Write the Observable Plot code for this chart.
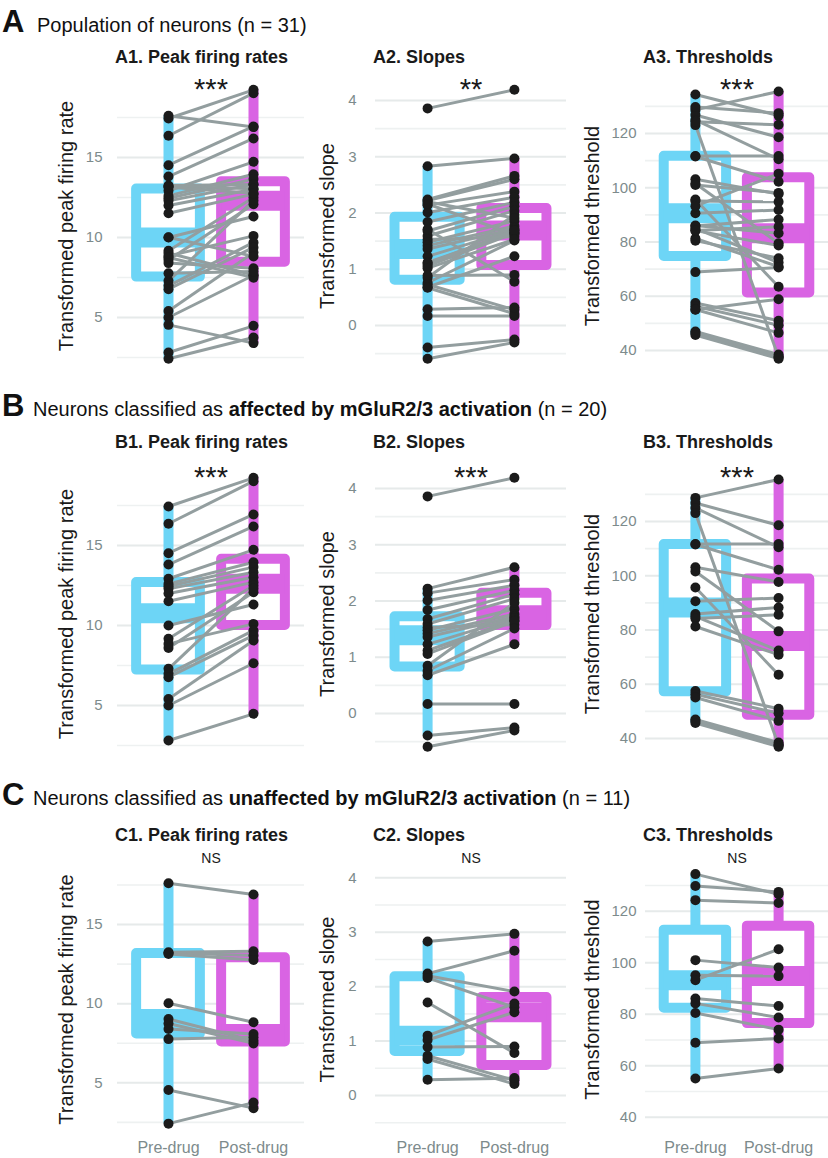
<!DOCTYPE html>
<html><head><meta charset="utf-8">
<script src="https://cdn.jsdelivr.net/npm/d3@7"></script>
<script src="https://cdn.jsdelivr.net/npm/@observablehq/plot@0.6"></script>
<style>
body{margin:0;background:#fff;}
#fig{position:relative;width:828px;height:1158px;overflow:hidden;font-family:"Liberation Sans",Arial,Helvetica,sans-serif;color:#1a1a1a;background:#fff;}
.abs{position:absolute;white-space:nowrap;}
</style></head><body><div id="fig"></div>
<script>
// ---------------- data ----------------
const groups = ["Pre-drug", "Post-drug"];
const rowLetters = ["A", "B", "C"];
const rowLead = ["Population of neurons ", "Neurons classified as ", "Neurons classified as "];
const rowBold = ["", "affected by mGluR2/3 activation", "unaffected by mGluR2/3 activation"];
const rowCount = ["(n = 31)", " (n = 20)", " (n = 11)"];
const measureTitles = ["Peak firing rates", "Slopes", "Thresholds"];
const axisTitles = ["Transformed peak firing rate", "Transformed slope", "Transformed threshold"];
const significance = [["***", "**", "***"], ["***", "***", "***"], ["NS", "NS", "NS"]];
const majorTicks = [[5, 10, 15], [0, 1, 2, 3, 4], [40, 60, 80, 100, 120]];
const minorTicks = [[2.5, 7.5, 12.5, 17.5], [-0.5, 0.5, 1.5, 2.5, 3.5], [50, 70, 90, 110, 130]];

// neurons affected by mGluR2/3 activation (n = 20), paired by index
const affectedRatePre  = [17.44, 16.36, 14.52, 13.81, 12.92, 12.6, 12.45, 12.29, 12.0, 11.52, 10.0, 9.17, 8.6, 7.29, 8.85, 6.98, 6.77, 5.4, 5.0, 2.81];
const affectedRatePost = [19.23, 19.02, 16.94, 16.19, 14.73, 13.95, 13.65, 13.33, 13.02, 12.71, 11.31, 12.5, 12.08, 12.3, 10.1, 9.69, 9.38, 9.06, 7.64, 4.48];
const affectedSlopePre  = [3.86, 2.22, 2.14, 2.01, 1.84, 1.68, 1.59, 1.53, 1.48, 1.42, 1.36, 1.23, 1.12, 1.06, 0.85, 0.76, 0.68, 0.17, -0.39, -0.59];
const affectedSlopePost = [4.19, 2.60, 2.38, 2.28, 2.19, 2.12, 2.04, 1.58, 1.86, 1.77, 1.72, 1.70, 1.66, 1.64, 1.97, 1.51, 1.23, 0.17, -0.25, -0.30];
const affectedThrPre  = [128.7, 126.8, 125.0, 123.1, 111.7, 111.5, 103.1, 101.6, 95.7, 90.6, 85.9, 85.0, 84.2, 81.3, 57.5, 56.3, 55.1, 47.0, 46.5, 45.7];
const affectedThrPost = [135.5, 118.6, 110.5, 37.5, 111.7, 102.2, 97.7, 79.5, 63.5, 91.8, 88.3, 72.4, 85.6, 70.9, 51.0, 49.3, 46.5, 38.5, 37.8, 37.0];

// neurons unaffected by mGluR2/3 activation (n = 11), paired by index
const unaffectedRatePre  = [17.61, 13.25, 13.2, 13.14, 10.02, 9.03, 8.75, 8.4, 7.76, 4.54, 2.42];
const unaffectedRatePost = [16.9, 13.31, 13.04, 12.76, 8.82, 7.66, 7.49, 8.08, 7.87, 3.4, 3.75];
const unaffectedSlopePre  = [2.83, 2.24, 2.2, 2.16, 1.71, 1.10, 1.02, 0.89, 0.73, 0.67, 0.29];
const unaffectedSlopePost = [2.97, 2.66, 1.91, 1.62, 0.78, 1.69, 1.53, 0.90, 0.28, 0.21, 0.32];
const unaffectedThrPre  = [134.4, 129.8, 124.3, 101.0, 95.1, 93.2, 86.1, 84.2, 80.5, 68.9, 55.0];
const unaffectedThrPost = [126.6, 127.5, 123.2, 98.1, 94.8, 105.2, 83.2, 78.7, 74.0, 70.6, 58.9];

// ---------------- layout / style ----------------
const boxColors = ["#6dd5f6", "#d964e3"];
const lineColor = "#939e9f";
const dotColor = "#1b1b1b";
const gridMajor = "#e6eaea";
const gridMinor = "#eef1f1";
const tickColor = "#7d8b8c";
const FONT = '"Liberation Sans", Arial, Helvetica, sans-serif';

const colFrame = [[117, 304], [375, 566], [645, 828]];
const svgLeft = [30, 296, 566];
const tickGap = [15, 19, 9];
const yTitleX = [66, 327, 592];
const rowFrame = [[80, 371], [468, 759], [861, 1137]];
const svgTop = [70, 458, 846];
const svgHeight = [306, 306, 312];
// two reference ticks (value, page y) per panel to reproduce each panel's y scale
const yRefs = [
  [[[5, 317], [15, 157]], [[0, 325], [4, 100]], [[40, 350], [120, 133]]],
  [[[5, 705], [15, 545]], [[0, 713], [4, 488]], [[40, 738], [120, 521]]],
  [[[5, 1082.3], [15, 924]], [[0, 1095], [4, 877.3]], [[40, 1116.7], [120, 910.7]]]
];
const panelTitleBase = [63.4, 448.4, 841.4];
const headerBase = [32, 416, 805];

const fig = document.getElementById("fig");

function placeText(html, x, baseline, size, weight, color) {
  const lh = Math.round(size * 1.3);
  const top = baseline - ((lh - 1.117 * size) / 2 + 0.905 * size);
  const el = document.createElement("div");
  el.className = "abs";
  el.style.left = x + "px";
  el.style.top = top + "px";
  el.style.fontSize = size + "px";
  el.style.lineHeight = lh + "px";
  el.style.fontWeight = weight;
  el.style.color = color;
  el.innerHTML = html;
  fig.appendChild(el);
}

function boxStats(values) {
  const s = d3.sort(values);
  const q1 = d3.quantileSorted(s, 0.25), med = d3.quantileSorted(s, 0.5), q3 = d3.quantileSorted(s, 0.75);
  const iqr = q3 - q1;
  const lo = d3.min(s.filter(v => v >= q1 - 1.5 * iqr));
  const hi = d3.max(s.filter(v => v <= q3 + 1.5 * iqr));
  return {q1, med, q3, lo, hi};
}

const datasets = [
  [[affectedRatePre.concat(unaffectedRatePre), affectedRatePost.concat(unaffectedRatePost)],
   [affectedSlopePre.concat(unaffectedSlopePre), affectedSlopePost.concat(unaffectedSlopePost)],
   [affectedThrPre.concat(unaffectedThrPre), affectedThrPost.concat(unaffectedThrPost)]],
  [[affectedRatePre, affectedRatePost], [affectedSlopePre, affectedSlopePost], [affectedThrPre, affectedThrPost]],
  [[unaffectedRatePre, unaffectedRatePost], [unaffectedSlopePre, unaffectedSlopePost], [unaffectedThrPre, unaffectedThrPost]]
];

// headers
for (let r = 0; r < 3; r++) {
  placeText(rowLetters[r], 2, headerBase[r] + 1, 31, "bold", "#111");
  const bold = rowBold[r] ? `<b>${rowBold[r]}</b>` : "";
  placeText(`${rowLead[r]}${bold}${rowCount[r]}`, r === 0 ? 37 : 33, headerBase[r], 20, "normal", "#111");
}

for (let r = 0; r < 3; r++) {
  for (let c = 0; c < 3; c++) {
    placeText(`${rowLetters[r]}${c + 1}. ${measureTitles[c]}`, colFrame[c][0] - 2, panelTitleBase[r], 18, "bold", "#1a1a1a");

    const [pre, post] = datasets[r][c];
    const pairs = pre.map((v, i) => ({pre: v, post: post[i]}));
    const stats = [boxStats(pre), boxStats(post)];

    const [[v1, p1], [v2, p2]] = yRefs[r][c];
    const inv = py => v1 + (py - p1) * (v2 - v1) / (p2 - p1);
    const lo = inv(rowFrame[r][1]), hi = inv(rowFrame[r][0]);
    const inDom = t => t >= lo && t <= hi;

    const width = colFrame[c][1] - svgLeft[c];
    const marginLeft = colFrame[c][0] - svgLeft[c];
    const marginTop = rowFrame[r][0] - svgTop[r];
    const marginBottom = svgTop[r] + svgHeight[r] - rowFrame[r][1];

    const marks = [
      Plot.ruleY(minorTicks[c].filter(inDom), {stroke: gridMinor, strokeWidth: 1.6}),
      Plot.ruleY(majorTicks[c].filter(inDom), {stroke: gridMajor, strokeWidth: 2}),
      Plot.axisY(majorTicks[c].filter(inDom), {tickSize: 0, tickPadding: tickGap[c], fontSize: 15, label: null, tickFormat: d => String(d)})
    ];
    if (r === 2) {
      marks.push(Plot.axisX([1, 2], {tickSize: 0, tickPadding: 4, fontSize: 16, label: null, tickFormat: i => groups[i - 1]}));
    }
    stats.forEach((st, g) => {
      const pos = g + 1, col = boxColors[g];
      marks.push(
        Plot.ruleX([st], {x: () => pos, y1: "q3", y2: "hi", stroke: col, strokeWidth: 10}),
        Plot.ruleX([st], {x: () => pos, y1: "lo", y2: "q1", stroke: col, strokeWidth: 10}),
        Plot.rect([st], {x1: () => pos - 0.375, x2: () => pos + 0.375, y1: "q1", y2: "q3", fill: "#fff", stroke: col, strokeWidth: 10, strokeLinejoin: "round"}),
        Plot.ruleY([st], {y: "med", x1: () => pos - 0.375, x2: () => pos + 0.375, stroke: col, strokeWidth: 20})
      );
    });
    marks.push(
      Plot.link(pairs, {x1: () => 1, x2: () => 2, y1: "pre", y2: "post", stroke: lineColor, strokeWidth: 3}),
      Plot.dot(pairs, {x: () => 1, y: "pre", r: 5, fill: dotColor}),
      Plot.dot(pairs, {x: () => 2, y: "post", r: 5, fill: dotColor})
    );
    const sig = significance[r][c];
    const isNS = sig === "NS";
    marks.push(
      Plot.text([sig], {text: d => d, frameAnchor: "top", lineAnchor: "middle", textAnchor: "middle",
        fontSize: isNS ? 14 : 29, fill: "#1a1a1a", dy: isNS ? -3 : 9}),
      Plot.text([axisTitles[c]], {text: d => d, frameAnchor: "left", rotate: -90, textAnchor: "middle", lineAnchor: "middle",
        dx: yTitleX[c] - colFrame[c][0], fontSize: 20, fill: "#1a1a1a"})
    );

    const svg = Plot.plot({
      width, height: svgHeight[r],
      marginLeft, marginRight: 0, marginTop, marginBottom,
      x: {type: "linear", domain: [0.4, 2.6], axis: null},
      y: {domain: [lo, hi]},
      style: {fontFamily: FONT, fontSize: "15px", color: tickColor, background: "transparent", overflow: "visible"},
      marks
    });
    svg.style.position = "absolute";
    svg.style.left = svgLeft[c] + "px";
    svg.style.top = svgTop[r] + "px";
    svg.style.maxWidth = "none";
    fig.appendChild(svg);
  }
}
</script></body></html>
